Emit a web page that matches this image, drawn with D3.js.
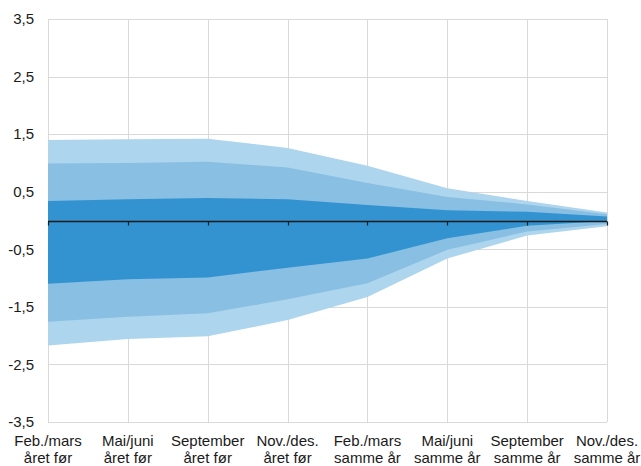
<!DOCTYPE html>
<html>
<head>
<meta charset="utf-8">
<script src="https://cdn.jsdelivr.net/npm/d3@7"></script>
<style>
body{margin:0;background:#fff;}
svg{display:block;font-family:"Liberation Sans",Arial,sans-serif;}
</style>
</head>
<body>
<svg id="chart" width="641" height="466"></svg>
<script>
const categories = [
  ["Feb./mars","året før"],["Mai/juni","året før"],["September","året før"],["Nov./des.","året før"],
  ["Feb./mars","samme år"],["Mai/juni","samme år"],["September","samme år"],["Nov./des.","samme år"]
];
const outerTop    = [1.40, 1.41, 1.42, 1.26, 0.95, 0.56, 0.34, 0.14];
const middleTop   = [0.99, 1.00, 1.02, 0.92, 0.65, 0.41, 0.28, 0.11];
const innerTop    = [0.34, 0.37, 0.39, 0.37, 0.27, 0.18, 0.15, 0.07];
const innerBottom = [-1.10, -1.02, -0.99, -0.82, -0.66, -0.31, -0.09, -0.01];
const middleBottom= [-1.76, -1.67, -1.61, -1.37, -1.09, -0.51, -0.19, -0.06];
const outerBottom = [-2.17, -2.06, -2.01, -1.73, -1.33, -0.66, -0.26, -0.10];
const yTicks = [-3.5, -2.5, -1.5, -0.5, 0.5, 1.5, 2.5, 3.5];

(function () {
const svg = d3.select("#chart");
const mLeft = 48, mRight = 607, mTop = 19, mBottom = 422;
const x = d3.scalePoint().domain(d3.range(categories.length)).range([mLeft, mRight]);
const y = d3.scaleLinear().domain([-3.5, 3.5]).range([mBottom, mTop]);

// grid
const g = svg.append("g");
g.selectAll("line.h").data(yTicks).join("line")
  .attr("x1", mLeft).attr("x2", mRight)
  .attr("y1", d => Math.round(y(d)) + 0.5).attr("y2", d => Math.round(y(d)) + 0.5)
  .attr("stroke", "#d9d9d9").attr("stroke-width", 1);
g.selectAll("line.v").data(d3.range(categories.length)).join("line")
  .attr("x1", d => Math.round(x(d)) + 0.5).attr("x2", d => Math.round(x(d)) + 0.5)
  .attr("y1", mTop).attr("y2", mBottom)
  .attr("stroke", "#d9d9d9").attr("stroke-width", 1);

function band(lo, hi, color) {
  const area = d3.area().x((d, i) => x(i)).y0((d, i) => y(lo[i])).y1((d, i) => y(hi[i]));
  svg.append("path").datum(lo).attr("d", area).attr("fill", color);
}
band(outerBottom, outerTop, "#add5ed");
band(middleBottom, middleTop, "#88bfe3");
band(innerBottom, innerTop, "#3393d1");

// zero axis
const y0 = Math.round(y(0)) + 0.5;
svg.append("line").attr("x1", mLeft).attr("x2", mRight).attr("y1", y0).attr("y2", y0)
  .attr("stroke", "#1a1a1a").attr("stroke-width", 1.5);
svg.selectAll("line.tick").data(d3.range(categories.length)).join("line")
  .attr("x1", d => Math.round(x(d)) + 0.5).attr("x2", d => Math.round(x(d)) + 0.5)
  .attr("y1", y0).attr("y2", y0 + 4)
  .attr("stroke", "#1a1a1a").attr("stroke-width", 1.2);

// y labels
svg.selectAll("text.yl").data(yTicks).join("text")
  .attr("x", 34).attr("y", d => y(d)).attr("dy", "0.35em")
  .attr("text-anchor", "end").attr("font-size", 15).attr("fill", "#1a1a1a")
  .text(d => d3.format(".1f")(d).replace(".", ",").replace("−", "-"));

// x labels
const xl = svg.selectAll("text.xl").data(categories).join("text")
  .attr("text-anchor", "middle").attr("font-size", 15).attr("fill", "#1a1a1a");
xl.append("tspan").attr("x", (d, i) => x(i)).attr("y", 446).text(d => d[0]);
xl.append("tspan").attr("x", (d, i) => x(i)).attr("y", 463).text(d => d[1]);
})();
</script>
</body>
</html>
